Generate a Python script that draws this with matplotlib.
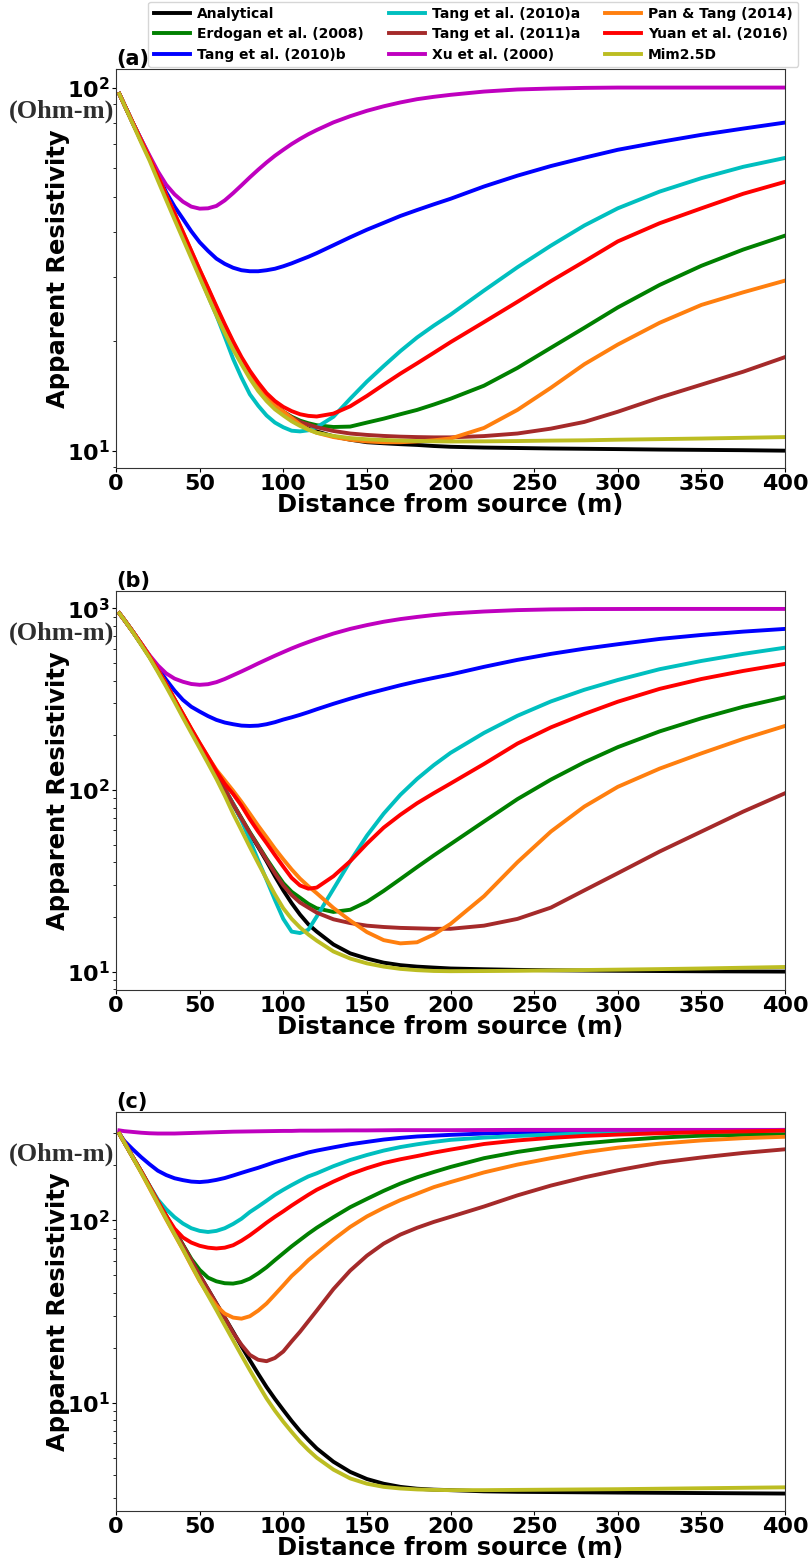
import matplotlib
matplotlib.use("Agg")
from matplotlib import pyplot as plt
from matplotlib.ticker import FuncFormatter, NullFormatter, LogLocator
import numpy as np

plt.rcParams['font.family'] = ['DejaVu Sans']
plt.rcParams['font.weight'] = 'bold'
plt.rcParams['axes.labelweight'] = 'bold'

# distance from the source, m
dist = [2, 5, 10, 15, 20, 25, 30, 35, 40, 45, 50, 55, 60, 65, 70, 75, 80, 85, 90, 95,
        100, 105, 110, 115, 120, 130, 140, 150, 160, 170, 180, 190, 200,
        220, 240, 260, 280, 300, 325, 350, 375, 400]

# ---- model (a) ----
analytical_a = [96, 89.6, 79.8, 71.3, 63.9, 56.6, 50.1, 44.4, 39.3, 34.8, 30.8, 27.3, 24.2, 21.6,
                19.4, 17.5, 16.0, 14.8, 13.8, 13.1, 12.6, 12.15, 11.8, 11.5, 11.3,
                10.95, 10.72, 10.55, 10.48, 10.42, 10.37, 10.3, 10.25,
                10.2, 10.17, 10.14, 10.12, 10.1, 10.07, 10.05, 10.03, 10.0]
erdogan_a = [96, 89.6, 80, 71.5, 64, 56.8, 50.3, 44.6, 39.5, 35.0, 31.0, 27.5, 24.4, 21.8,
             19.6, 17.7, 16.2, 15.0, 14.0, 13.3, 12.8, 12.4, 12.1, 11.9, 11.75,
             11.62, 11.65, 11.95, 12.25, 12.6, 12.95, 13.4, 13.9,
             15.1, 16.9, 19.2, 21.8, 24.8, 28.6, 32.3, 35.8, 39.1]
tang10b_a = [96, 89.6, 80, 72, 64.5, 57.5, 51.5, 47.0, 43.5, 40.2, 37.5, 35.5, 33.8, 32.7,
             31.9, 31.4, 31.2, 31.2, 31.4, 31.7, 32.2, 32.8, 33.5, 34.2, 35.0,
             36.8, 38.7, 40.6, 42.4, 44.3, 46.0, 47.7, 49.4,
             53.4, 57.2, 60.8, 64.1, 67.4, 70.8, 74.1, 77.1, 80.1]
tang10a_a = [96, 89.6, 80, 71.5, 63.9, 56.6, 50.1, 44.3, 39.1, 34.4, 30.3, 26.7, 23.6, 20.6,
             17.9, 15.9, 14.3, 13.3, 12.5, 11.95, 11.6, 11.35, 11.3, 11.38, 11.6,
             12.4, 13.9, 15.5, 17.1, 18.8, 20.5, 22.1, 23.7,
             27.6, 32.0, 36.7, 41.7, 46.5, 51.7, 56.3, 60.5, 64.0]
tang11a_a = [96, 89.6, 80, 71.5, 64, 56.8, 50.3, 44.6, 39.5, 35.0, 31.0, 27.5, 24.4, 21.8,
             19.6, 17.7, 16.2, 15.0, 14.0, 13.3, 12.8, 12.35, 12.0, 11.8, 11.6,
             11.33, 11.15, 11.05, 10.98, 10.93, 10.9, 10.88, 10.88,
             10.97, 11.15, 11.5, 12.0, 12.8, 14.0, 15.2, 16.5, 18.1]
xu_a = [96, 89.6, 80, 72, 65, 58.8, 54, 50.8, 48.5, 47.0, 46.4, 46.5, 47.2, 48.9,
        51.2, 53.8, 56.6, 59.4, 62.2, 64.9, 67.4, 69.9, 72.2, 74.4, 76.4,
        80.2, 83.4, 86.3, 88.8, 91.0, 92.9, 94.3, 95.5,
        97.5, 98.8, 99.4, 99.8, 100, 100, 100, 100, 100]
pan_a = [96, 89.6, 80, 71.5, 64, 57, 50.5, 45, 40, 35.5, 31.5, 28, 24.8, 22.1,
         19.8, 17.9, 16.3, 15.0, 14.0, 13.3, 12.8, 12.3, 11.8, 11.45, 11.2,
         10.9, 10.72, 10.6, 10.55, 10.55, 10.6, 10.68, 10.8,
         11.55, 12.95, 14.9, 17.3, 19.6, 22.5, 25.2, 27.3, 29.4]
yuan_a = [96, 89.6, 80, 71.6, 64, 57, 50.5, 45, 40, 35.5, 31.5, 28.1, 25, 22.3,
          20, 18.1, 16.6, 15.4, 14.4, 13.7, 13.2, 12.85, 12.6, 12.47, 12.42,
          12.65, 13.25, 14.15, 15.2, 16.3, 17.4, 18.6, 19.9,
          22.6, 25.7, 29.3, 33.2, 37.7, 42.3, 46.5, 51.0, 55.0]
mim_a = [96, 89.4, 79.5, 70.6, 63, 55.5, 49, 43.3, 38.3, 33.9, 30.0, 26.6, 23.6, 21.1,
         19.0, 17.3, 15.8, 14.6, 13.7, 13.0, 12.5, 12.05, 11.7, 11.42, 11.2,
         10.98, 10.83, 10.75, 10.7, 10.66, 10.63, 10.61, 10.6,
         10.61, 10.63, 10.66, 10.68, 10.72, 10.76, 10.8, 10.85, 10.9]

# ---- model (b) ----
analytical_b = [938, 862, 744, 636, 542, 455, 379, 313, 259, 214, 177, 146, 121, 101,
                83, 69, 57.5, 48.5, 40.5, 33.5, 28.0, 23.8, 20.6, 18.2, 16.6,
                14.1, 12.6, 11.8, 11.2, 10.85, 10.65, 10.52, 10.4,
                10.3, 10.22, 10.17, 10.13, 10.1, 10.07, 10.04, 10.02, 10.0]
erdogan_b = [938, 862, 744, 636, 542, 455, 379, 313, 259, 214, 177, 146, 121, 101,
             84, 70, 58.5, 49.5, 41.8, 35.7, 30.7, 27.5, 25.5, 23.6, 22.3,
             21.3, 21.9, 24.2, 27.8, 32.3, 37.6, 43.6, 50.3,
             67, 89, 114, 142, 172, 210, 248, 287, 324]
tang10b_b = [938, 862, 744, 640, 548, 470, 404, 352, 313, 287, 270, 255, 243, 235,
             230, 226, 225, 226, 230, 236, 244, 251, 259, 268, 278,
             298, 318, 338, 357, 377, 396, 414, 432,
             476, 520, 561, 599, 634, 678, 713, 744, 770]
tang10a_b = [938, 862, 744, 636, 542, 455, 379, 313, 259, 214, 177, 146, 121, 101,
             84, 68, 53, 41, 32.0, 24.8, 19.5, 16.6, 16.3, 17.0, 20.1,
             28.5, 40.5, 56, 74, 94, 115, 137, 160,
             206, 256, 307, 356, 403, 462, 513, 561, 607]
tang11a_b = [938, 862, 744, 636, 542, 455, 379, 313, 259, 214, 177, 146, 121, 101,
             83.5, 69.5, 58, 49, 41.2, 34.8, 29.8, 26.4, 24.0, 22.5, 21.1,
             19.4, 18.5, 17.9, 17.6, 17.4, 17.3, 17.2, 17.2,
             17.9, 19.5, 22.5, 28, 34.8, 45.8, 59.0, 76.0, 95.9]
xu_b = [938, 860, 744, 640, 552, 485, 438, 410, 394, 383, 379, 382, 392, 408,
        428, 449, 472, 497, 522, 548, 574, 601, 627, 652, 677,
        726, 770, 808, 843, 872, 896, 918, 936,
        960, 977, 986, 990, 991, 992, 992, 992, 992]
pan_b = [938, 862, 744, 640, 545, 458, 382, 316, 262, 217, 181, 152, 129, 113,
         99, 86, 74, 63.5, 55, 47.5, 41.5, 36.5, 32.5, 29.5, 27.0,
         22.4, 19.1, 16.5, 14.9, 14.3, 14.5, 16.0, 18.3,
         26, 40, 59, 81, 104, 131, 159, 191, 225]
yuan_b = [938, 862, 744, 640, 545, 458, 382, 316, 262, 217, 181, 152, 127, 108,
          95, 82, 69, 59, 51, 43.8, 37.8, 32.8, 29.8, 28.6, 29.0,
          33.5, 40.5, 50.6, 62, 73, 84.5, 96, 108.5,
          139, 180, 221, 262, 306, 360, 408, 452, 494]
mim_b = [938, 860, 740, 630, 535, 446, 370, 305, 250, 206, 170, 140, 115, 93,
         74, 60, 48.5, 39.5, 32.3, 26.6, 22.3, 19.5, 17.5, 16.0, 14.8,
         12.9, 11.8, 11.1, 10.65, 10.35, 10.18, 10.08, 10.05,
         10.07, 10.1, 10.15, 10.2, 10.25, 10.32, 10.4, 10.5, 10.6]

# ---- model (c) ----
analytical_c = [298, 267, 222, 185, 153.5, 127, 105, 87.5, 73.0, 60.5, 50.0, 41.9, 35.0, 29.3,
                24.5, 20.4, 17.1, 14.4, 12.2, 10.5, 9.12, 7.95, 7.0, 6.25, 5.62,
                4.75, 4.18, 3.82, 3.6, 3.46, 3.38, 3.34, 3.32,
                3.27, 3.25, 3.24, 3.23, 3.22, 3.21, 3.2, 3.19, 3.18]
erdogan_c = [298, 267, 222, 186, 154, 128, 106, 88, 73.5, 61.5, 53.5, 48.5, 46.3, 45.2,
             45.0, 45.9, 47.9, 51.2, 55.3, 60.5, 66, 72, 78, 84.5, 91,
             104, 118, 131, 145, 159, 172, 184, 196,
             219, 237, 252, 264, 274, 284, 291, 294, 297]
tang10b_c = [298, 272, 245, 222, 203, 187, 177, 170, 166, 163, 162, 163.5, 166.5, 170.5,
             176, 182, 188, 194, 201, 208.5, 215, 222, 228.5, 235.5, 241,
             251, 261, 269, 277, 283, 288, 291, 294,
             299, 303, 306, 308, 310, 311, 312, 312, 313]
tang10a_c = [298, 267, 222, 186, 155, 130, 115, 104, 96, 90.5, 87.5, 86.3, 87.5, 90.5,
             95.5, 102, 111, 119, 128, 138, 147, 156, 165, 174, 181,
             198, 214, 228, 241, 252, 261, 269, 276,
             284, 290, 295, 299, 302, 304, 307, 308, 310]
tang11a_c = [298, 267, 222, 185, 153.5, 127, 105, 87.5, 73.0, 60.5, 50.0, 41.9, 35.0, 29.3,
             24.2, 20.8, 18.3, 17.2, 16.9, 17.6, 19.1, 21.7, 24.5, 28.0, 32.0,
             42, 53, 64, 74.5, 83.5, 91, 98, 104.5,
             119, 137, 155, 172, 188, 207, 221, 234, 245]
xu_c = [311, 308, 305, 302, 300, 299, 299, 299, 300, 301, 302, 303, 304, 305,
        306, 306.5, 307, 307.5, 308, 308.5, 309, 309, 310, 310, 310,
        310.5, 311, 311, 311.5, 312, 312, 312, 312,
        312.5, 313, 313, 313, 313, 313, 313, 313, 313]
pan_c = [298, 266, 221, 183, 150, 123, 101, 83.5, 69, 56.5, 46.5, 39.3, 34.0, 30.8,
         29.3, 28.9, 29.8, 32.0, 35.0, 39.2, 44, 49.5, 54.5, 60.5, 66,
         78.5, 92, 105, 117, 129, 140, 152, 162,
         183, 202, 219, 236, 250, 263, 274, 282, 287]
yuan_c = [298, 267, 222, 186, 154, 127, 106, 90, 80.5, 75.5, 72.5, 70.8, 70.1, 70.8,
          73, 77.3, 82.8, 89.5, 97, 104.5, 112, 120.5, 129, 138, 147,
          163, 179, 193, 206, 216, 225, 235, 244,
          262, 274, 283, 290, 295, 300, 304, 307, 310]
mim_c = [298, 266, 221, 183, 151, 124, 102, 84, 69.4, 57, 46.9, 38.8, 32.2, 26.6,
         22.0, 18.2, 15.1, 12.6, 10.56, 9.05, 7.87, 6.92, 6.12, 5.5, 5.0,
         4.3, 3.85, 3.6, 3.46, 3.39, 3.35, 3.33, 3.32,
         3.32, 3.33, 3.34, 3.35, 3.36, 3.38, 3.4, 3.42, 3.44]

labels = ['Analytical', 'Erdogan et al. (2008)', 'Tang et al. (2010)b',
          'Tang et al. (2010)a', 'Tang et al. (2011)a', 'Xu et al. (2000)',
          'Pan & Tang (2014)', 'Yuan et al. (2016)', 'Mim2.5D']
colors = ['k', 'g', 'b', 'c', 'brown', 'm', 'C1', 'r', 'C8']

panels = [
    ('(a)', [analytical_a, erdogan_a, tang10b_a, tang10a_a, tang11a_a, xu_a, pan_a, yuan_a, mim_a],
     (8.96, 112.5)),
    ('(b)', [analytical_b, erdogan_b, tang10b_b, tang10a_b, tang11a_b, xu_b, pan_b, yuan_b, mim_b],
     (7.92, 1245)),
    ('(c)', [analytical_c, erdogan_c, tang10b_c, tang10a_c, tang11a_c, xu_c, pan_c, yuan_c, mim_c],
     (2.55, 392)),
]

fig = plt.figure(figsize=(8.12, 15.61), dpi=100)
tops = [0.9558, 0.6214, 0.2876]
height = 0.2556

pow_fmt = FuncFormatter(lambda v, pos: r'$\mathbf{10^{%d}}$' % round(np.log10(v)))

for (tag, curves, ylim), top in zip(panels, tops):
    ax = fig.add_axes([0.1429, top - height, 0.8239, height])
    for y, c, lab in zip(curves, colors, labels):
        ax.plot(dist, y, color=c, lw=2.8, label=lab)
    ax.set_yscale('log')
    ax.set_xlim(0, 400)
    ax.set_ylim(*ylim)
    ax.set_xticks(np.arange(0, 401, 50))
    ax.yaxis.set_major_locator(LogLocator(base=10))
    ax.yaxis.set_major_formatter(pow_fmt)
    ax.yaxis.set_minor_formatter(NullFormatter())
    ax.tick_params(axis='both', which='major', labelsize=16, length=3, pad=1.5)
    ax.tick_params(axis='both', which='minor', length=2)
    for s in ax.spines.values():
        s.set_color('0.2')
    ax.set_xlabel('Distance from source (m)', fontsize=17.5, labelpad=-1)
    ax.set_ylabel('Apparent Resistivity', fontsize=17.5)
    ax.yaxis.set_label_coords(-0.069, 0.5)
    ax.set_title(tag, loc='left', fontsize=15, fontweight='bold', pad=1)
    ax.text(-0.081, 0.893, '(Ohm-m)', transform=ax.transAxes, ha='center', va='center',
            fontsize=19, fontweight='bold', family='Liberation Serif', color='#2e2e2e')
    if tag == '(a)':
        handles, labs = ax.get_legend_handles_labels()

fig.legend(handles, labs, loc='lower center', bbox_to_anchor=(0.583, 0.957), ncol=3,
           prop={'size': 10, 'weight': 'bold'}, handlelength=2.6, handletextpad=0.5,
           columnspacing=1.8, labelspacing=0.45, borderaxespad=0)

fig.savefig('out.png', dpi=100)
